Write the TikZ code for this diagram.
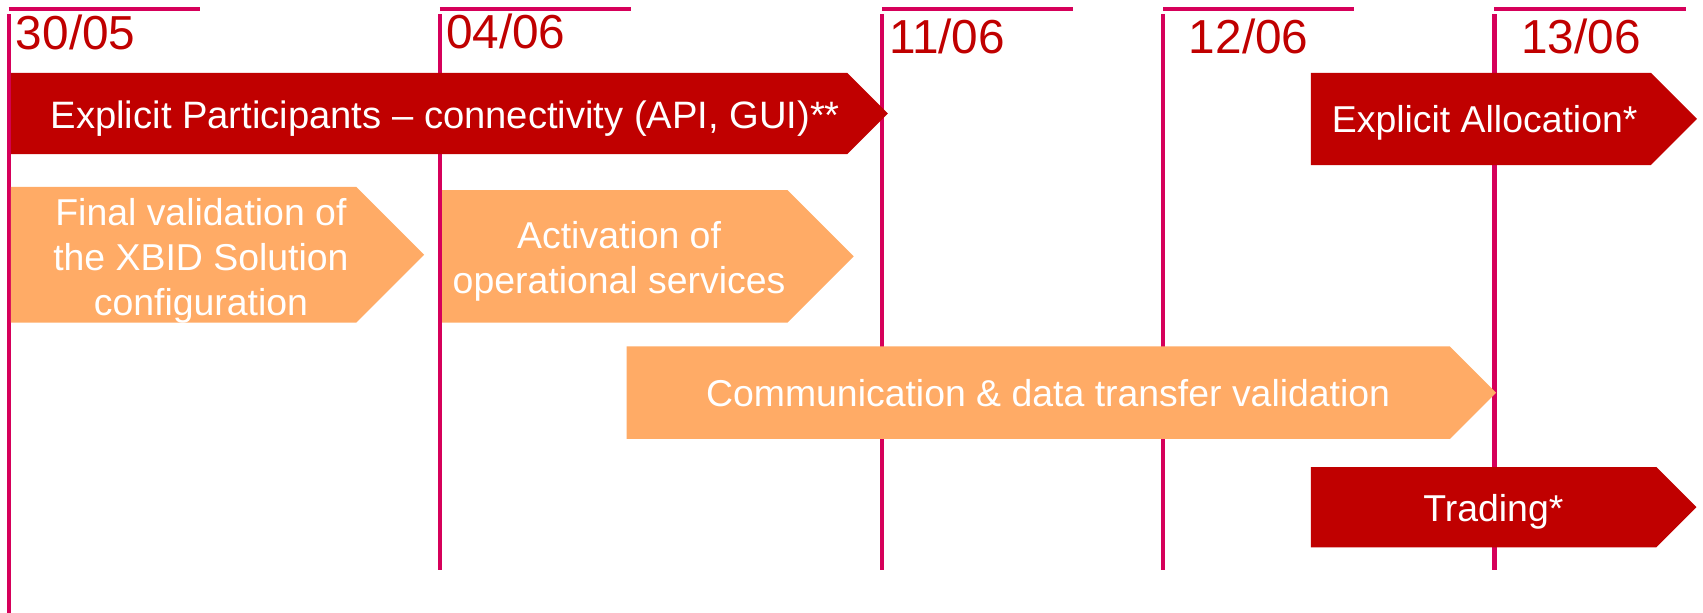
\documentclass[tikz,border=0pt]{standalone}
\usepackage{fontspec}
\setmainfont{Liberation Sans}
\definecolor{darkred}{HTML}{C00000}
\definecolor{gridline}{HTML}{D6005A}
\definecolor{lightorange}{HTML}{FFAB66}
\begin{document}
\begin{tikzpicture}[x=0.1mm,y=-0.1mm]
    \tikzstyle{grid line}=[draw=gridline, line width=1.1pt]
    \tikzstyle{date}=[anchor=base west, inner sep=0pt, text=darkred, font=\fontsize{12.5}{15}\selectfont]
    \tikzstyle{task}=[align=center, inner sep=0pt, text=white, font=\fontsize{9.8}{11.8}\selectfont]
    \tikzstyle{main task}=[fill=darkred]
    \tikzstyle{side task}=[fill=lightorange]

    \useasboundingbox (0,0) rectangle (1568,564);

    \foreach \x in {8,405,812,1071,1376}
        \draw[style=grid line] (\x,8) -- +(176,0);
    \draw[style=grid line] (8,13) -- (8,564);
    \foreach \x in {405,812,1071,1376}
        \draw[style=grid line] (\x,13) -- (\x,525);

    \node[date](d_0) at (14,46) {30/05};
    \node[date](d_1) at (410,45) {04/06};
    \node[date](d_2) at (818,49) {11/06};
    \node[date](d_3) at (1094,49) {12/06};
    \node[date](d_4) at (1400,49) {13/06};

    \fill[style=main task] (10,67) -- (780,67) -- (817.5,104.5) -- (780,142) -- (10,142) -- cycle;
    \fill[style=main task] (1207,67) -- (1520,67) -- (1562.5,109.5) -- (1520,152) -- (1207,152) -- cycle;
    \fill[style=side task] (10,172) -- (328,172) -- (390.5,234.5) -- (328,297) -- (10,297) -- cycle;
    \fill[style=side task] (407,175) -- (725,175) -- (786,236) -- (725,297) -- (407,297) -- cycle;
    \fill[style=side task] (577,319) -- (1335,319) -- (1377.5,361.5) -- (1335,404) -- (577,404) -- cycle;
    \fill[style=main task] (1207,430) -- (1525,430) -- (1562,467) -- (1525,504) -- (1207,504) -- cycle;

    \node[task, anchor=base, font=\fontsize{10}{12}\selectfont](t_0) at (410,118) {Explicit Participants \textendash{} connectivity (API, GUI)**};
    \node[task, anchor=base](t_1) at (1367,122) {Explicit Allocation*};
    \node[task](t_2) at (185,240) {Final validation of\\the XBID Solution\\configuration};
    \node[task](t_3) at (570,241) {Activation of\\operational services};
    \node[task, anchor=base](t_4) at (965,374) {Communication \& data transfer validation};
    \node[task, anchor=base](t_5) at (1375,480) {Trading*};
\end{tikzpicture}
\end{document}
